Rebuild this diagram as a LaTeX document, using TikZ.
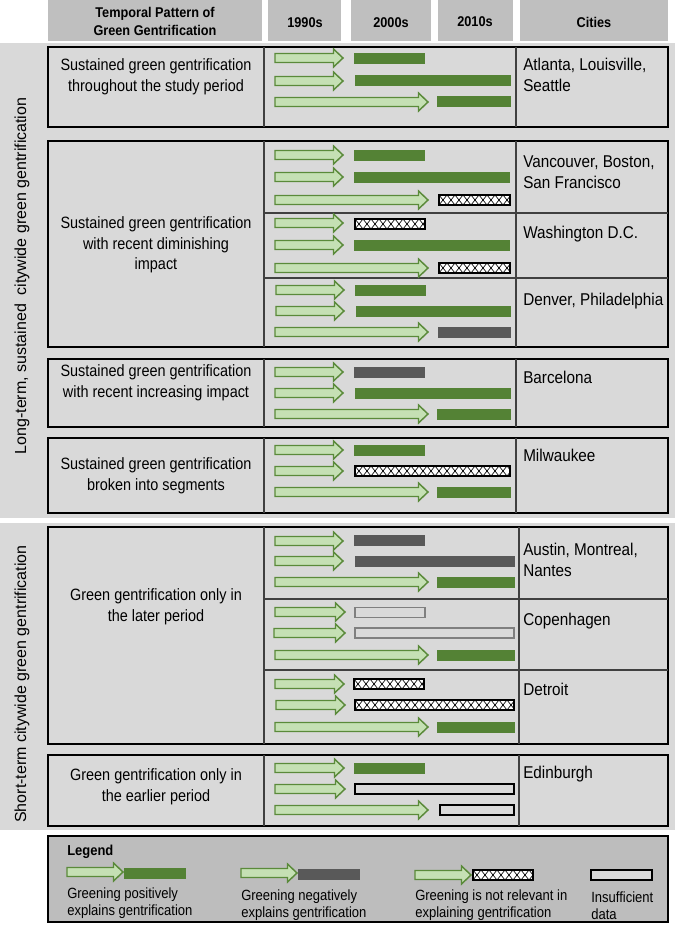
\documentclass[tikz,border=0pt]{standalone}
\usepackage{fontspec}
\setmainfont{Liberation Sans}
\newfontfamily\lblfont{Liberation Sans}[FakeStretch=0.88]
\newfontfamily\cityfont{Liberation Sans}[FakeStretch=0.895]
\newfontfamily\hdrfont{Liberation Sans}[FakeStretch=0.9]
\definecolor{bandgray}{HTML}{D9D9D9}
\definecolor{boxgray}{HTML}{D9D9D9}
\definecolor{hdrgray}{HTML}{BFBFBF}
\definecolor{leggray}{HTML}{BDBDBD}
\definecolor{arrfill}{HTML}{C5E0B4}
\definecolor{arrdraw}{HTML}{5A8A3A}
\definecolor{gpos}{HTML}{548235}
\definecolor{gneg}{HTML}{595959}
\definecolor{divgray}{HTML}{404040}
\definecolor{insgray}{HTML}{7F7F7F}
\newcommand\GArrow[3]{\draw[arr] (#1,#3-4.5) -- (#2-9.5,#3-4.5) -- (#2-9.5,#3-9) -- (#2,#3) -- (#2-9.5,#3+9) -- (#2-9.5,#3+4.5) -- (#1,#3+4.5) -- cycle;}
\newcommand\PosBar[3]{\fill[gpos] (#1,#3-5.5) rectangle (#2,#3+5.5);}
\newcommand\NegBar[3]{\fill[gneg] (#1,#3-5.5) rectangle (#2,#3+5.5);}
\newcommand\InsBar[3]{\draw[fill=boxgray,draw=black,line width=1.1pt] (#1,#3-5) rectangle (#2,#3+5);}
\newcommand\InsGBar[3]{\draw[fill=boxgray,draw=insgray,line width=1.1pt] (#1,#3-5) rectangle (#2,#3+5);}
\newcommand\IrrBar[3]{%
  \begin{scope}
    \clip (#1,#3-5) rectangle (#2,#3+5);
    \fill[white] (#1,#3-5) rectangle (#2,#3+5);
    \foreach \k in {0,...,21} {
      \draw[line width=0.5pt] ({#1+8*\k},{#3-5}) -- ({#1+8*\k+8},{#3+5});
      \draw[line width=0.5pt] ({#1+8*\k+8},{#3-5}) -- ({#1+8*\k},{#3+5});
    }
  \end{scope}
  \draw[line width=1.2pt] (#1,#3-5) rectangle (#2,#3+5);}
\begin{document}
\begin{tikzpicture}[x=0.75pt,y=-0.75pt,
  band/.style={fill=bandgray,draw=none},
  hdr/.style={fill=hdrgray,draw=none},
  grp/.style={draw=black,line width=1.5pt,fill=boxgray},
  div/.style={draw=divgray,line width=0.8pt},
  arr/.style={fill=arrfill,draw=arrdraw,line width=1.1pt,line join=miter},
  lbl/.style={font=\lblfont\fontsize{12.3}{15.5}\selectfont,align=center,inner sep=0pt},
  city/.style={font=\cityfont\fontsize{12.8}{15.8}\selectfont,align=left,anchor=north west,inner sep=0pt},
  hdrtxt/.style={font=\hdrfont\bfseries\fontsize{10.6}{13.5}\selectfont,align=center,inner sep=0pt},
  vtxt/.style={font=\fontsize{12}{14}\selectfont,rotate=90,inner sep=0pt},
  legtxt/.style={font=\lblfont\fontsize{11.1}{13}\selectfont,align=left,anchor=north west,inner sep=0pt}]
\useasboundingbox (0,0) rectangle (675,926);
\fill[white] (0,0) rectangle (675,926);
% header
\fill[hdr] (48,-2) rectangle (262,41);
\fill[hdr] (268,-2) rectangle (341,41);
\fill[hdr] (351,-2) rectangle (431,41);
\fill[hdr] (438,-2) rectangle (513,41);
\fill[hdr] (520,-2) rectangle (668,41);
\node[hdrtxt] (h1) at (155,21) {Temporal Pattern of\\Green Gentrification};
\node[hdrtxt] (h2) at (305,23) {1990s};
\node[hdrtxt] (h3) at (391,23) {2000s};
\node[hdrtxt] (h4) at (475,22) {2010s};
\node[hdrtxt] (h5) at (594,22) {Cities};
% bands
\fill[band] (0,43) rectangle (675,518);
\fill[band] (0,523) rectangle (675,830);
\node[vtxt] (v1) at (22,276) {Long-term, sustained\ \ citywide green gentrification};
\node[vtxt] (v2) at (22,684) {Short-term citywide green gentrification};
% group boxes
\draw[grp] (48,47) rectangle (668,127);
\draw[div] (264,47) -- (264,127) (516,47) -- (516,127);
\draw[grp] (48,141) rectangle (668,347);
\draw[div] (264,141) -- (264,347) (516,141) -- (516,347) (264,213) -- (668,213) (264,278) -- (668,278);
\draw[grp] (48,359) rectangle (668,427);
\draw[div] (264,359) -- (264,427) (516,359) -- (516,427);
\draw[grp] (48,438) rectangle (668,513);
\draw[div] (264,438) -- (264,513) (516,438) -- (516,513);
\draw[grp] (48,527) rectangle (668,744);
\draw[div] (264,527) -- (264,744) (519,527) -- (519,744) (264,599) -- (668,599) (264,670) -- (668,670);
\draw[grp] (48,755) rectangle (668,826);
\draw[div] (264,755) -- (264,826) (519,755) -- (519,826);
% labels
\node[lbl] (l1) at (156,77) {Sustained green gentrification\\throughout the study period};
\node[lbl] (l2) at (156,245) {Sustained green gentrification\\with recent diminishing\\impact};
\node[lbl] (l3) at (156,383) {Sustained green gentrification\\with recent increasing impact};
\node[lbl] (l4) at (156,476) {Sustained green gentrification\\broken into segments};
\node[lbl] (l5) at (156,607) {Green gentrification only in\\the later period};
\node[lbl] (l6) at (156,787) {Green gentrification only in\\the earlier period};
% cities
\node[city] (c1) at (523,58) {Atlanta, Louisville,\\Seattle};
\node[city] (c2) at (523,155) {Vancouver, Boston,\\San Francisco};
\node[city] (c3) at (523,226) {Washington D.C.};
\node[city] (c4) at (523,293) {Denver, Philadelphia};
\node[city] (c5) at (523,371) {Barcelona};
\node[city] (c6) at (523,449) {Milwaukee};
\node[city] (c7) at (523,543) {Austin, Montreal,\\Nantes};
\node[city] (c8) at (523,613) {Copenhagen};
\node[city] (c9) at (523,683) {Detroit};
\node[city] (c10) at (523,766) {Edinburgh};
% box 1
\GArrow{275}{343}{58}\PosBar{354}{425}{58.5}
\GArrow{275}{343}{81}\PosBar{355}{511}{80.5}
\GArrow{275}{428}{102}\PosBar{437}{511}{101.5}
% box 2
\GArrow{275}{343}{155}\PosBar{354}{425}{155.5}
\GArrow{275}{343}{177}\PosBar{354}{510}{177}
\GArrow{275}{428}{200}\IrrBar{439}{510}{200}
\GArrow{275}{343}{223}\IrrBar{355}{425}{224}
\GArrow{275}{343}{245}\PosBar{354}{510}{245.5}
\GArrow{275}{428}{268}\IrrBar{439}{510}{268}
\GArrow{276}{344}{290}\PosBar{355}{426}{290}
\GArrow{276}{344}{311}\PosBar{356}{511}{311}
\GArrow{275}{428}{332}\NegBar{438}{511}{332.5}
% box 3
\GArrow{275}{343}{372}\NegBar{354}{425}{372}
\GArrow{275}{343}{393}\PosBar{355}{511}{393}
\GArrow{275}{428}{414}\PosBar{437}{511}{414}
% box 4
\GArrow{275}{343}{450}\PosBar{354}{425}{450}
\GArrow{275}{343}{471}\IrrBar{355}{510}{471}
\GArrow{275}{428}{492}\PosBar{437}{511}{492}
% box 5
\GArrow{275}{343}{541}\NegBar{354}{425}{540.5}
\GArrow{275}{343}{561}\NegBar{355}{515}{561}
\GArrow{275}{428}{582}\PosBar{437}{515}{582}
\GArrow{275}{345}{612}\InsGBar{355}{425}{612.5}
\GArrow{274}{345}{633}\InsGBar{355}{514}{633}
\GArrow{275}{428}{655}\PosBar{437}{515}{655}
\GArrow{275}{344}{684}\IrrBar{354}{424}{684}
\GArrow{276}{345}{705}\IrrBar{355}{514}{705}
\GArrow{275}{428}{727}\PosBar{437}{515}{727}
% box 6
\GArrow{275}{344}{768}\PosBar{354}{425}{768.5}
\GArrow{275}{345}{789}\InsBar{355}{514}{789}
\GArrow{275}{428}{810}\InsBar{440}{514}{810}
% legend
\draw[fill=leggray,draw=black,line width=1.5pt] (48,836) rectangle (668,922);
\node[font=\hdrfont\bfseries\fontsize{10.8}{13}\selectfont,anchor=west,inner sep=0pt] (lg) at (67,852) {Legend};
\GArrow{67}{123}{872}\PosBar{124}{186}{873}
\GArrow{241}{297}{873}\NegBar{298}{360}{874}
\GArrow{415}{471}{875}\IrrBar{473}{533}{875}
\InsBar{591}{652}{875}
\node[legtxt] (t1) at (67,887) {Greening positively\\explains gentrification};
\node[legtxt] (t2) at (241,889) {Greening negatively\\explains gentrification};
\node[legtxt] (t3) at (415,889) {Greening is not relevant in\\explaining gentrification};
\node[legtxt] (t4) at (591,891) {Insufficient\\data};
\end{tikzpicture}
\end{document}
